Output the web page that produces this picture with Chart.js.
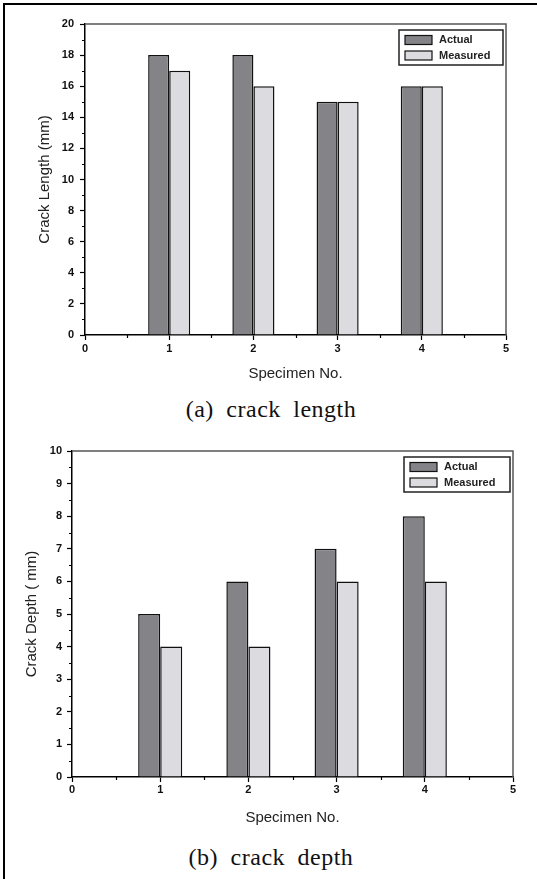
<!DOCTYPE html>
<html>
<head>
<meta charset="utf-8">
<script src="https://cdn.jsdelivr.net/npm/chart.js@4.4.0/dist/chart.umd.min.js"></script>
<style>
  body { margin: 0; background: #fff; width: 537px; height: 879px; overflow: hidden; position: relative; }
  .frame { position: absolute; left: 3px; top: 3px; width: 540px; height: 880px; border-top: 2px solid #000; border-left: 2px solid #000; }
  canvas { position: absolute; left: 0; }
  .caption { position: absolute; left: 0; width: 542px; text-align: center; font-family: "Liberation Serif", serif; font-size: 24px; letter-spacing: 0.5px; word-spacing: 6px; color: #111; line-height: 24px; }
</style>
</head>
<body>
<div class="frame"></div>
<canvas id="lengthChart" width="537" height="395" style="top:0"></canvas>
<div class="caption" style="top:397px">(a) crack length</div>
<canvas id="depthChart" width="537" height="400" style="top:430px"></canvas>
<div class="caption" style="top:845px">(b) crack depth</div>
<script>
// Specimen numbers on the x axis
const specimenLabels = ['0', '1', '2', '3', '4', '5'];

// (a) crack length, mm
const lengthActual = [null, 18, 18, 15, 16, null];
const lengthMeasured = [null, 17, 16, 15, 16, null];

// (b) crack depth, mm
const depthActual = [null, 5, 6, 7, 8, null];
const depthMeasured = [null, 4, 4, 6, 6, null];

const darkFill = '#848387';
const lightFill = '#dcdbdf';

// minor ticks, plot frame and boxed legend
const decorPlugin = {
    id: 'decor',
    afterDraw(chart, args, opts) {
        const ctx = chart.ctx;
        const area = chart.chartArea;
        const xs = chart.scales.x;
        const ys = chart.scales.y;
        ctx.save();

        // grey top / right frame
        ctx.strokeStyle = '#555';
        ctx.lineWidth = 1.5;
        ctx.beginPath();
        ctx.moveTo(area.left, area.top);
        ctx.lineTo(area.right, area.top);
        ctx.lineTo(area.right, area.bottom);
        ctx.stroke();

        // minor ticks
        ctx.strokeStyle = '#000';
        ctx.lineWidth = 1.2;
        ctx.beginPath();
        for (let i = 0; i < ys.ticks.length - 1; i++) {
            const mid = (ys.ticks[i].value + ys.ticks[i + 1].value) / 2;
            const py = Math.round(ys.getPixelForValue(mid)) + 0.5;
            ctx.moveTo(area.left - 3, py);
            ctx.lineTo(area.left, py);
        }
        for (let i = 0; i < xs.ticks.length - 1; i++) {
            const px = Math.round((xs.getPixelForTick(i) + xs.getPixelForTick(i + 1)) / 2) + 0.5;
            ctx.moveTo(px, area.bottom);
            ctx.lineTo(px, area.bottom + 3);
        }
        ctx.stroke();

        // legend box
        const boxW = opts.boxWidth, boxH = 35;
        const bx = area.right - 3 - boxW;
        const by = area.top + 6;
        ctx.lineWidth = 1.5;
        ctx.strokeStyle = '#222';
        ctx.strokeRect(bx, by, boxW, boxH);
        ctx.font = 'bold 11px "Liberation Sans", Arial, sans-serif';
        ctx.textBaseline = 'middle';
        chart.data.datasets.forEach((ds, i) => {
            const cy = by + 10 + i * 15.5;
            ctx.fillStyle = ds.backgroundColor;
            ctx.fillRect(bx + 6, cy - 4.5, 27, 9);
            ctx.lineWidth = 1.2;
            ctx.strokeStyle = '#111';
            ctx.strokeRect(bx + 6, cy - 4.5, 27, 9);
            ctx.fillStyle = '#222';
            ctx.fillText(ds.label, bx + 40, cy);
        });
        ctx.restore();
    }
};

function makeChart(id, actual, measured, opt) {
    const ctx = document.getElementById(id).getContext('2d');
    const barStyle = {
        borderColor: '#111',
        borderWidth: 1.5,
        borderSkipped: 'bottom',
        categoryPercentage: 0.5,
        barPercentage: 1.0
    };
    return new Chart(ctx, {
        type: 'bar',
        data: {
            labels: specimenLabels,
            datasets: [
                Object.assign({ label: 'Actual', data: actual, backgroundColor: darkFill }, barStyle),
                Object.assign({ label: 'Measured', data: measured, backgroundColor: lightFill }, barStyle)
            ]
        },
        options: {
            responsive: false,
            animation: false,
            layout: { padding: opt.padding },
            plugins: {
                legend: { display: false },
                tooltip: { enabled: false },
                decor: { boxWidth: opt.legendWidth }
            },
            scales: {
                x: {
                    offset: false,
                    grid: { offset: false, drawOnChartArea: false, tickLength: 5, tickColor: '#000', tickWidth: 1.2 },
                    border: { color: '#000', width: 1.5 },
                    ticks: { color: '#111', padding: opt.xTickPad, maxRotation: 0, font: { family: '"Liberation Sans", Arial', size: 11, weight: 'bold' } },
                    title: { display: true, text: 'Specimen No.', color: '#222', padding: { top: 0, bottom: opt.xTitlePad }, font: { family: '"Liberation Sans", Arial', size: 15 } },
                    afterFit: s => { s.height = opt.xHeight; }
                },
                y: {
                    min: 0,
                    max: opt.yMax,
                    ticks: { stepSize: opt.yStep, color: '#111', padding: opt.yTickPad, font: { family: '"Liberation Sans", Arial', size: 11, weight: 'bold' } },
                    grid: { drawOnChartArea: false, tickLength: 5, tickColor: '#000', tickWidth: 1.2 },
                    border: { color: '#000', width: 1.5 },
                    title: { display: true, text: opt.yTitle, color: '#222', padding: { top: opt.yTitlePad, bottom: 0 }, font: { family: '"Liberation Sans", Arial', size: 15 } },
                    afterFit: s => { s.width = opt.yWidth; }
                }
            }
        },
        plugins: [decorPlugin]
    });
}

makeChart('lengthChart', lengthActual, lengthMeasured, {
    padding: { left: 0, right: 31, top: 24, bottom: 0 },
    yMax: 20, yStep: 2, yTitle: 'Crack Length (mm)',
    yWidth: 85, xHeight: 60, yTickPad: 6, xTickPad: 2, xTitlePad: 12, yTitlePad: 36,
    legendWidth: 104
});

makeChart('depthChart', depthActual, depthMeasured, {
    padding: { left: 0, right: 24, top: 21, bottom: 0 },
    yMax: 10, yStep: 1, yTitle: 'Crack Depth ( mm)',
    yWidth: 72, xHeight: 53, yTickPad: 5, xTickPad: 1, xTitlePad: 3, yTitlePad: 23,
    legendWidth: 106
});
</script>
</body>
</html>
